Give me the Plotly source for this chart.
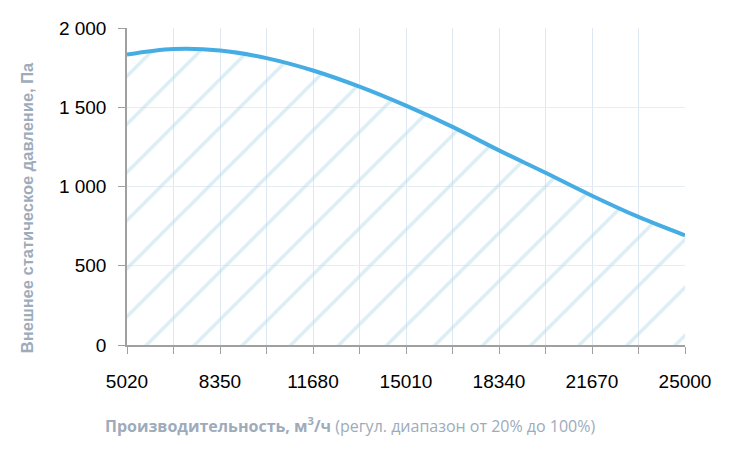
import plotly.graph_objects as go

# Fan curve: airflow (m3/h) vs external static pressure (Pa)
airflow = [5020, 6685, 8350, 10015, 11680, 13345, 15010, 16675, 18340, 20005, 21670, 23335, 25000]
pressure = [1832, 1867, 1858, 1810, 1732, 1630, 1510, 1376, 1228, 1087, 942, 808, 692]

x_tickvals = [5020, 8350, 11680, 15010, 18340, 21670, 25000]
x_ticktext = ['5020', '8350', '11680', '15010', '18340', '21670', '25000']
x_minor = [6685, 10015, 13345, 16675, 20005, 23335]
y_tickvals = [0, 500, 1000, 1500, 2000]
y_ticktext = ['0', '500', '1 000', '1 500', '2 000']

TITLE_COLOR = '#9dabbb'
LINE_COLOR = '#45ade3'
AXIS_COLOR = '#a0a0a0'
GRID_COLOR = '#dde8f2'

fig = go.Figure()

fig.add_trace(go.Scatter(
    x=airflow,
    y=pressure,
    mode='lines',
    line=dict(color=LINE_COLOR, width=4, shape='spline'),
    fill='tozeroy',
    fillcolor='rgba(0,0,0,0)',
    fillpattern=dict(shape='/', fgcolor='#b8dcec', bgcolor='rgba(0,0,0,0)',
                     size=34, solidity=0.1),
    hoverinfo='x+y',
    showlegend=False
))

# page body has an 8px margin, so the plot box is shifted up/left by that
fig.update_layout(
    width=730,
    height=456,
    margin=dict(l=119, r=53, t=20, b=119, autoexpand=False),
    plot_bgcolor='white',
    paper_bgcolor='white',
    font=dict(family='Liberation Sans, Arial', size=19, color='black'),
    xaxis=dict(
        range=[5020, 25000],
        tickvals=x_tickvals,
        ticktext=x_ticktext,
        ticks='outside',
        ticklen=7,
        tickcolor=AXIS_COLOR,
        ticklabelstandoff=11,
        showline=True,
        linecolor=AXIS_COLOR,
        linewidth=1.5,
        showgrid=True,
        gridcolor=GRID_COLOR,
        zeroline=False,
        minor=dict(tickvals=x_minor, ticks='outside', ticklen=7,
                   tickcolor=AXIS_COLOR, showgrid=True, gridcolor=GRID_COLOR),
    ),
    yaxis=dict(
        range=[0, 2000],
        tickvals=y_tickvals,
        ticktext=y_ticktext,
        ticks='outside',
        ticklen=7,
        tickcolor=AXIS_COLOR,
        ticklabelstandoff=8,
        showline=True,
        linecolor=AXIS_COLOR,
        linewidth=1.5,
        showgrid=True,
        gridcolor='#e6edf3',
        zeroline=False,
    ),
    annotations=[
        dict(
            text='<b>Внешнее статическое давление, Па</b>',
            xref='paper', yref='paper',
            x=-0.179, y=0.432,
            xanchor='center', yanchor='middle',
            textangle=-90,
            showarrow=False,
            font=dict(family='Liberation Sans, Arial', size=16.5, color=TITLE_COLOR),
        ),
        dict(
            text='<b>Производительность, м<sup>3</sup>/ч</b> (регул. диапазон от 20% до 100%)',
            xref='paper', yref='paper',
            x=0.399, y=-0.252,
            xanchor='center', yanchor='middle',
            showarrow=False,
            font=dict(family='Open Sans', size=16, color=TITLE_COLOR),
        ),
    ],
)

fig.write_html("out.html")
